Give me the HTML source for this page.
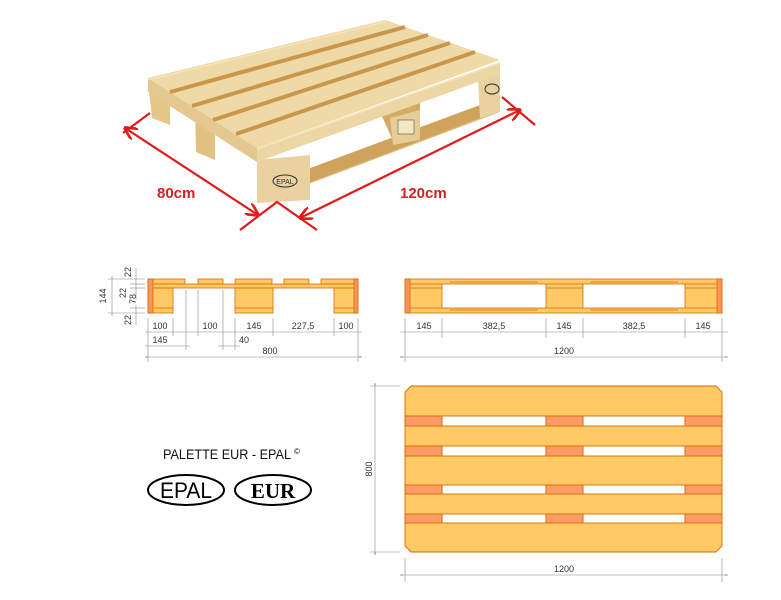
<!DOCTYPE html>
<html><head><meta charset="utf-8"><style>
html,body{margin:0;padding:0;background:#fff}
svg{display:block}
text{font-family:"Liberation Sans",sans-serif}
.d{font-size:9px;fill:#333}
</style></head><body>
<svg width="781" height="600" viewBox="0 0 781 600" xmlns="http://www.w3.org/2000/svg">
<defs>
<marker id="ra" viewBox="0 0 10 10" refX="9" refY="5" markerWidth="6" markerHeight="6" orient="auto-start-reverse"><path d="M0,0 L10,5 L0,10" fill="none" stroke="#e01b1b" stroke-width="2"/></marker>
<marker id="ga" viewBox="0 0 10 10" refX="10" refY="5" markerWidth="4" markerHeight="4" orient="auto-start-reverse"><path d="M0,2 L10,5 L0,8z" fill="#777"/></marker>
</defs>

<!-- PHOTO PALLET -->
<g stroke="none">
 <polygon points="148,82 170,90 170,125 152,118" fill="#e3c688"/>
 <polygon points="195,108 215,115 215,160 196,152" fill="#e0c283"/>
 <polygon points="380,112 420,100 420,140 395,145" fill="#d4ab66"/>
 <polygon points="258,190 500,100 500,112 258,203" fill="#ddb977"/>
 <polygon points="305,170 480,105 480,118 305,184" fill="#cfa35c"/>
 <polygon points="257,160 310,155 310,200 257,203" fill="#ead1a0"/>
 <polygon points="390,118 420,110 420,140 393,145" fill="#e6cc96"/>
 <polygon points="478,80 500,70 500,112 480,118" fill="#ead1a0"/>
 <polygon points="148,78 257,148 257,162 148,92" fill="#e4c890"/>
 <polygon points="257,148 500,62 500,74 257,162" fill="#ecd6a4"/>
 <polygon points="148,78 385,20 500,60 257,148" fill="#efd9a6"/>
 <g stroke="#c9964d" stroke-width="4">
  <line x1="170" y1="92" x2="405" y2="27"/>
  <line x1="192" y1="106" x2="428" y2="35"/>
  <line x1="213" y1="120" x2="450" y2="43"/>
  <line x1="236" y1="134" x2="475" y2="52"/>
 </g>
 <g stroke="#f6e8c2" stroke-width="1">
  <line x1="148" y1="80" x2="385" y2="22"/>
  <line x1="257" y1="149" x2="500" y2="63"/>
 </g>
 <ellipse cx="285" cy="181" rx="12" ry="6" fill="none" stroke="#333" stroke-width="1"/>
 <text x="285" y="184" font-size="7" text-anchor="middle" fill="#333">EPAL</text>
 <ellipse cx="492" cy="89" rx="7" ry="5" fill="none" stroke="#333" stroke-width="1"/>
 <rect x="398" y="120" width="16" height="14" fill="#f5e7bf" stroke="#555" stroke-width="0.6"/>
</g>
<g stroke="#e01b1b" stroke-width="2.2" fill="none">
 <line x1="125" y1="128" x2="258" y2="215" marker-start="url(#ra)" marker-end="url(#ra)"/>
 <line x1="300" y1="218" x2="520" y2="110" marker-start="url(#ra)" marker-end="url(#ra)"/>
 <polyline points="240,230 277,202 317,230"/>
 <line x1="150" y1="113" x2="123" y2="133"/>
 <line x1="502" y1="97" x2="535" y2="125"/>
</g>
<text x="157" y="198" font-size="15" font-weight="bold" fill="#d81e1e">80cm</text>
<text x="400" y="198" font-size="15" font-weight="bold" fill="#d81e1e">120cm</text>

<!-- SIDE VIEW 800 -->
<g stroke="#d96a00" stroke-width="0.8" fill="#ffc966">
 <rect x="148" y="279" width="37" height="5"/>
 <rect x="198" y="279" width="25" height="5"/>
 <rect x="235" y="279" width="37" height="5"/>
 <rect x="284" y="279" width="25" height="5"/>
 <rect x="321" y="279" width="37" height="5"/>
 <rect x="148" y="284" width="210" height="4"/>
 <rect x="148" y="288" width="25" height="25"/>
 <rect x="235" y="288" width="38" height="25"/>
 <rect x="334" y="288" width="24" height="25"/>
 <line x1="148" y1="308" x2="173" y2="308"/>
 <line x1="235" y1="308" x2="273" y2="308"/>
 <line x1="334" y1="308" x2="358" y2="308"/>
 <rect x="148" y="279" width="5" height="34" fill="#f7965c"/>
 <rect x="354" y="279" width="4" height="34" fill="#f7965c"/>
</g>
<g stroke="#888" stroke-width="0.6" fill="none">
 <line x1="148" y1="318" x2="148" y2="362"/><line x1="173" y1="318" x2="173" y2="336"/>
 <line x1="186" y1="290" x2="186" y2="350"/><line x1="198" y1="290" x2="198" y2="336"/>
 <line x1="223" y1="290" x2="223" y2="350"/><line x1="235" y1="318" x2="235" y2="350"/>
 <line x1="273" y1="318" x2="273" y2="336"/><line x1="334" y1="318" x2="334" y2="336"/>
 <line x1="358" y1="318" x2="358" y2="362"/>
 <line x1="145" y1="332" x2="362" y2="332"/>
 <line x1="145" y1="346" x2="190" y2="346"/>
 <line x1="218" y1="346" x2="240" y2="346"/>
 <line x1="145" y1="357" x2="362" y2="357" marker-start="url(#ga)" marker-end="url(#ga)"/>
 <line x1="108" y1="279" x2="145" y2="279"/><line x1="108" y1="313" x2="145" y2="313"/>
 <line x1="112" y1="276" x2="112" y2="316"/>
 <line x1="136" y1="268" x2="136" y2="284"/><line x1="136" y1="284" x2="136" y2="300"/>
 <line x1="136" y1="305" x2="136" y2="325"/>
 <line x1="130" y1="284" x2="145" y2="284"/><line x1="130" y1="288" x2="145" y2="288"/><line x1="130" y1="308" x2="145" y2="308"/>
</g>
<g class="d" text-anchor="middle">
 <text x="160" y="329">100</text><text x="210" y="329">100</text><text x="254" y="329">145</text>
 <text x="303" y="329">227,5</text><text x="346" y="329">100</text>
 <text x="160" y="343">145</text><text x="244" y="343">40</text>
 <text x="270" y="354">800</text>
 <text transform="translate(106,296) rotate(-90)">144</text>
 <text transform="translate(131,272) rotate(-90)">22</text>
 <text transform="translate(126,293) rotate(-90)">22</text>
 <text transform="translate(136,299) rotate(-90)">78</text>
 <text transform="translate(131,320) rotate(-90)">22</text>
</g>

<!-- SIDE VIEW 1200 -->
<g stroke="#d96a00" stroke-width="0.8" fill="#ffc966">
 <rect x="405" y="279" width="317" height="34"/>
 <rect x="442" y="284" width="104" height="24" fill="#fff"/>
 <rect x="583" y="284" width="102" height="24" fill="#fff"/>
 <line x1="450" y1="282" x2="538" y2="282"/><line x1="590" y1="282" x2="678" y2="282"/>
 <line x1="450" y1="310" x2="538" y2="310"/><line x1="590" y1="310" x2="678" y2="310"/>
 <line x1="405" y1="284" x2="442" y2="284"/><line x1="546" y1="284" x2="583" y2="284"/><line x1="685" y1="284" x2="722" y2="284"/>
 <line x1="405" y1="288" x2="442" y2="288"/><line x1="546" y1="288" x2="583" y2="288"/><line x1="685" y1="288" x2="722" y2="288"/>
 <line x1="405" y1="308" x2="442" y2="308"/><line x1="546" y1="308" x2="583" y2="308"/><line x1="685" y1="308" x2="722" y2="308"/>
 <rect x="405" y="279" width="5" height="34" fill="#f7965c"/>
 <rect x="717" y="279" width="5" height="34" fill="#f7965c"/>
</g>
<g stroke="#888" stroke-width="0.6" fill="none">
 <line x1="405" y1="318" x2="405" y2="362"/><line x1="442" y1="318" x2="442" y2="338"/>
 <line x1="546" y1="318" x2="546" y2="338"/><line x1="583" y1="318" x2="583" y2="338"/>
 <line x1="685" y1="318" x2="685" y2="338"/><line x1="722" y1="318" x2="722" y2="362"/>
 <line x1="400" y1="332" x2="728" y2="332"/>
 <line x1="400" y1="357" x2="728" y2="357" marker-start="url(#ga)" marker-end="url(#ga)"/>
</g>
<g class="d" text-anchor="middle">
 <text x="424" y="329">145</text><text x="494" y="329">382,5</text><text x="564" y="329">145</text>
 <text x="634" y="329">382,5</text><text x="703" y="329">145</text><text x="564" y="354">1200</text>
</g>

<!-- PLAN VIEW -->
<g stroke="#d96a00" stroke-width="0.9">
 <polygon points="411,386 716,386 722,392 722,546 716,552 411,552 405,546 405,392" fill="#ffc966"/>
 <g fill="#fff">
  <rect x="442" y="416" width="104" height="10"/><rect x="583" y="416" width="102" height="10"/>
  <rect x="442" y="446" width="104" height="10"/><rect x="583" y="446" width="102" height="10"/>
  <rect x="442" y="485" width="104" height="9"/><rect x="583" y="485" width="102" height="9"/>
  <rect x="442" y="514" width="104" height="9"/><rect x="583" y="514" width="102" height="9"/>
 </g>
 <g fill="#fe9b66">
  <rect x="405" y="416" width="37" height="10"/><rect x="546" y="416" width="37" height="10"/><rect x="685" y="416" width="37" height="10"/>
  <rect x="405" y="446" width="37" height="10"/><rect x="546" y="446" width="37" height="10"/><rect x="685" y="446" width="37" height="10"/>
  <rect x="405" y="485" width="37" height="9"/><rect x="546" y="485" width="37" height="9"/><rect x="685" y="485" width="37" height="9"/>
  <rect x="405" y="514" width="37" height="9"/><rect x="546" y="514" width="37" height="9"/><rect x="685" y="514" width="37" height="9"/>
 </g>
</g>
<g stroke="#888" stroke-width="0.6" fill="none">
 <line x1="370" y1="386" x2="400" y2="386"/><line x1="370" y1="552" x2="400" y2="552"/>
 <line x1="375" y1="383" x2="375" y2="555" marker-start="url(#ga)" marker-end="url(#ga)"/>
 <line x1="405" y1="558" x2="405" y2="582"/><line x1="722" y1="558" x2="722" y2="582"/>
 <line x1="400" y1="575" x2="728" y2="575" marker-start="url(#ga)" marker-end="url(#ga)"/>
</g>
<g class="d" text-anchor="middle">
 <text transform="translate(372,469) rotate(-90)">800</text>
 <text x="564" y="572">1200</text>
</g>

<!-- LOGOS -->
<text x="163" y="459" font-size="14" fill="#111" textLength="128" lengthAdjust="spacingAndGlyphs">PALETTE EUR - EPAL</text>
<text x="294" y="454" font-size="8" fill="#111">©</text>
<ellipse cx="186" cy="490" rx="38" ry="15" fill="none" stroke="#000" stroke-width="2"/>
<text x="186" y="498" font-size="22" text-anchor="middle" fill="#000" textLength="52" lengthAdjust="spacingAndGlyphs">EPAL</text>
<ellipse cx="273" cy="490" rx="38" ry="15" fill="none" stroke="#000" stroke-width="2"/>
<text x="273" y="498" font-size="21" font-weight="bold" text-anchor="middle" fill="#000" style="font-family:'Liberation Serif',serif">EUR</text>
</svg>
</body></html>
